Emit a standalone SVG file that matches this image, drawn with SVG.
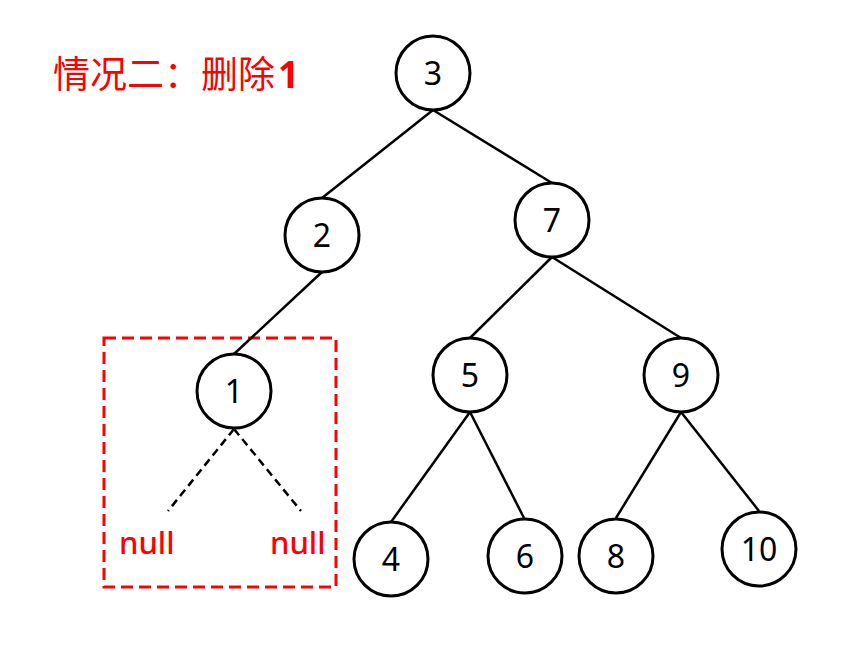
<svg xmlns="http://www.w3.org/2000/svg" width="856" height="647" viewBox="0 0 856 647">
<style>
.n circle{fill:#fff;stroke:#000;stroke-width:3}
.n text{font-family:"Noto Sans","Liberation Sans",sans-serif;font-size:32px;fill:#000;text-anchor:middle}
.e line{stroke:#000;stroke-width:2.5}
.d line{stroke:#000;stroke-width:2.5;stroke-dasharray:8 5}
.red{fill:#f00;font-family:"Noto Sans","Noto Sans CJK SC",sans-serif}
</style>
<rect width="856" height="647" fill="#fff"/>
<text class="red" x="53" y="88" font-size="37">情况二：删除<tspan font-weight="bold" dx="3">1</tspan></text>
<rect x="104" y="338" width="232" height="249" fill="none" stroke="#f00" stroke-width="3" stroke-dasharray="12 6"/>
<g id="connectors">
<g class="e">
<line x1="433" y1="110" x2="322" y2="198"/>
<line x1="433" y1="110" x2="552" y2="183"/>
<line x1="322" y1="272" x2="234" y2="354"/>
<line x1="552" y1="257" x2="470" y2="338"/>
<line x1="552" y1="257" x2="681" y2="338"/>
<line x1="470" y1="412" x2="391" y2="522"/>
<line x1="470" y1="412" x2="524" y2="518"/>
<line x1="681" y1="412" x2="616" y2="518"/>
<line x1="681" y1="412" x2="759" y2="511"/>
</g>
<g class="d">
<line x1="234" y1="429" x2="168" y2="511"/>
<line x1="234" y1="429" x2="301" y2="511"/>
</g>
</g>
<g id="n3" class="n"><circle cx="433" cy="73" r="37"/><text x="433" y="85">3</text></g>
<g id="n2" class="n"><circle cx="322" cy="235" r="37"/><text x="322" y="247">2</text></g>
<g id="n7" class="n"><circle cx="552" cy="220" r="37"/><text x="552" y="232">7</text></g>
<g id="n1" class="n"><circle cx="234" cy="391" r="37"/><text x="234" y="403">1</text></g>
<g id="n5" class="n"><circle cx="470" cy="375" r="37"/><text x="470" y="387">5</text></g>
<g id="n9" class="n"><circle cx="681" cy="375" r="37"/><text x="681" y="387">9</text></g>
<g id="n4" class="n"><circle cx="391" cy="559" r="37"/><text x="391" y="571">4</text></g>
<g id="n6" class="n"><circle cx="525" cy="556" r="37"/><text x="525" y="568">6</text></g>
<g id="n8" class="n"><circle cx="616" cy="556" r="37"/><text x="616" y="568">8</text></g>
<g id="n10" class="n"><circle cx="759" cy="549" r="37"/><text x="759" y="561">10</text></g>
<g id="null1"><text class="red" x="119" y="554" font-size="31" font-weight="500">null</text></g>
<g id="null2"><text class="red" x="270" y="554" font-size="31" font-weight="500">null</text></g>
</svg>
